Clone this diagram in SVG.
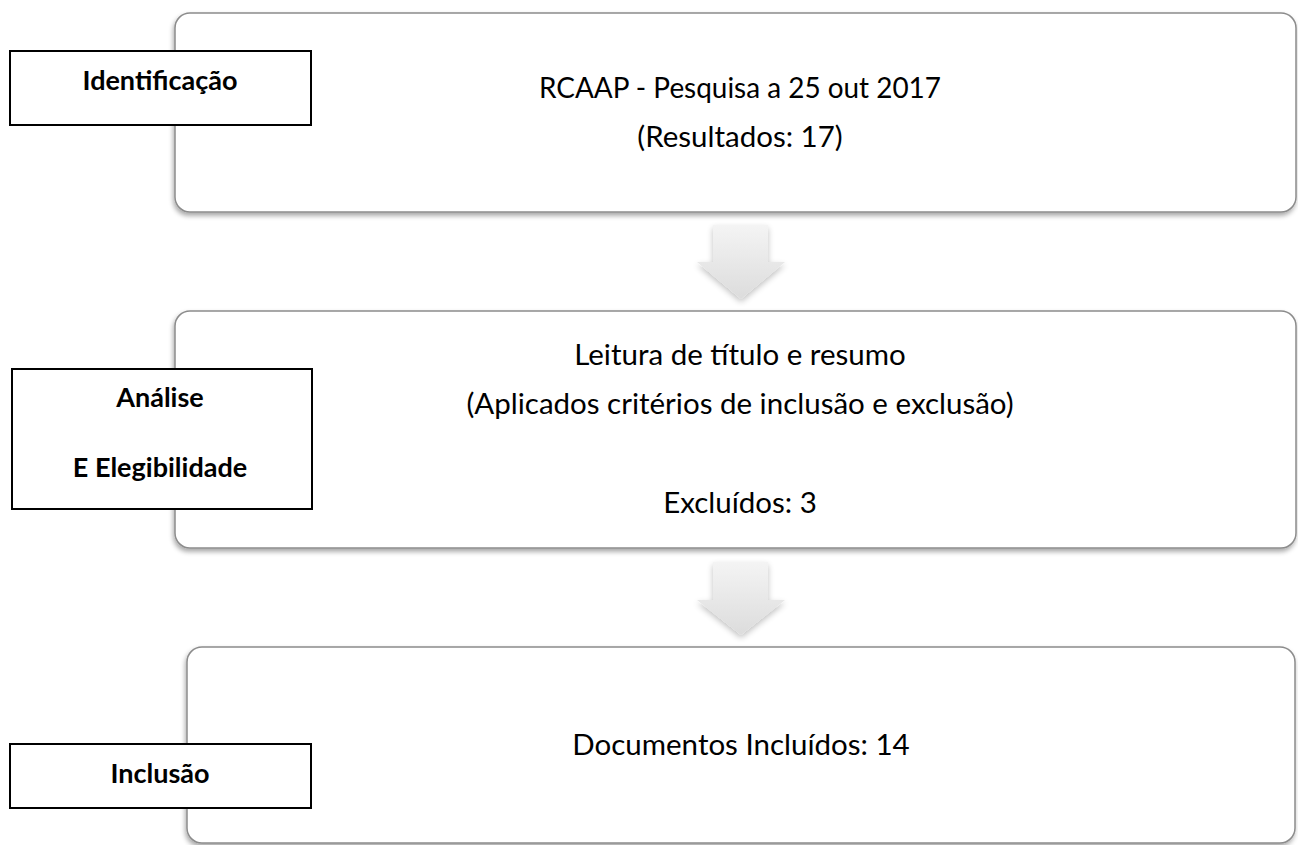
<svg xmlns="http://www.w3.org/2000/svg" width="1298" height="845" viewBox="0 0 1298 845">
  <defs>
    <filter id="shadow" x="-5%" y="-10%" width="110%" height="125%">
      <feGaussianBlur in="SourceAlpha" stdDeviation="2.5"/>
      <feOffset dx="-1" dy="3" result="b"/>
      <feComponentTransfer><feFuncA type="linear" slope="0.35"/></feComponentTransfer>
      <feMerge><feMergeNode/><feMergeNode in="SourceGraphic"/></feMerge>
    </filter>
    <filter id="ashadow" x="-20%" y="-20%" width="140%" height="150%">
      <feGaussianBlur in="SourceAlpha" stdDeviation="3"/>
      <feOffset dx="0" dy="3" result="b"/>
      <feComponentTransfer><feFuncA type="linear" slope="0.25"/></feComponentTransfer>
      <feMerge><feMergeNode/><feMergeNode in="SourceGraphic"/></feMerge>
    </filter>
    <linearGradient id="agrad" x1="0" y1="0" x2="0" y2="1">
      <stop offset="0" stop-color="#f4f4f4"/>
      <stop offset="1" stop-color="#dcdcdc"/>
    </linearGradient>
  </defs>
  <style>
    .big { fill: #ffffff; stroke: #8c8c8c; stroke-width: 1.5; }
    .lab { fill: #ffffff; stroke: #000000; stroke-width: 2; }
    .arrow { fill: url(#agrad); stroke: none; }
    .t { font-family: Lato, "Open Sans", sans-serif; font-size: 29.5px; fill: #000000; text-anchor: middle; }
    .b { font-family: Lato, "Open Sans", sans-serif; font-size: 27px; font-weight: bold; fill: #000000; text-anchor: middle; }
  </style>

  <rect width="1298" height="845" fill="#ffffff"/>

  <g id="step1">
    <rect class="big" x="175" y="13" width="1121" height="199" rx="15" filter="url(#shadow)"/>
    <text class="t" x="740" y="98" textLength="402" lengthAdjust="spacingAndGlyphs">RCAAP - Pesquisa a 25 out 2017</text>
    <text class="t" x="740" y="147">(Resultados: 17)</text>
  </g>

  <g id="step2">
    <rect class="big" x="175" y="311" width="1121" height="237" rx="15" filter="url(#shadow)"/>
    <text class="t" x="740" y="365">Leitura de título e resumo</text>
    <text class="t" x="740" y="414">(Aplicados critérios de inclusão e exclusão)</text>
    <text class="t" x="740" y="513">Excluídos: 3</text>
  </g>

  <g id="step3">
    <rect class="big" x="187" y="647" width="1108" height="196" rx="15" filter="url(#shadow)"/>
    <text class="t" x="741" y="755">Documentos Incluídos: 14</text>
  </g>

  <g id="label-identificacao">
    <rect class="lab" x="10" y="51" width="301" height="74"/>
    <text class="b" x="160" y="90">Identificação</text>
  </g>

  <g id="label-analise">
    <rect class="lab" x="12" y="369" width="300" height="140"/>
    <text class="b" x="160" y="407">Análise</text>
    <text class="b" x="160" y="477">E Elegibilidade</text>
  </g>

  <g id="label-inclusao">
    <rect class="lab" x="10" y="744" width="301" height="64"/>
    <text class="b" x="160" y="783">Inclusão</text>
  </g>

  <g id="connectors">
    <path class="arrow" filter="url(#ashadow)" d="M713,225 H768 V262 H785 L741,299 L697,262 H713 Z"/>
    <path class="arrow" filter="url(#ashadow)" d="M713,562 H768 V600 H785 L741,635 L697,600 H713 Z"/>
  </g>
</svg>
